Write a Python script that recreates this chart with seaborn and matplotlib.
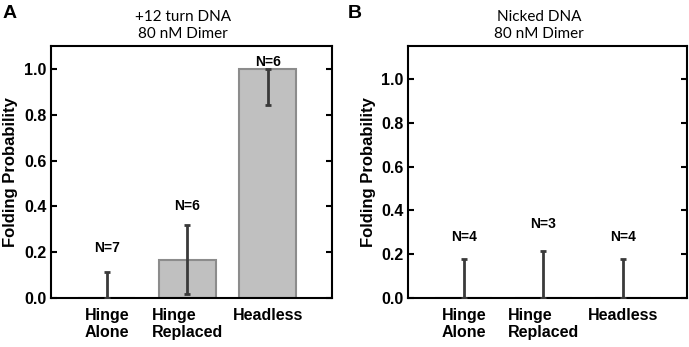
import numpy as np
import pandas as pd
import seaborn as sns
import matplotlib.pyplot as plt

# categories and values
categories = ["Hinge\nAlone", "Hinge\nReplaced", "Headless"]

twelve_mean = [0.0, 0.167, 1.0]
twelve_err_lo = [0.0, 0.15, 0.155]
twelve_err_hi = [0.115, 0.15, 0.0]
twelve_n = ["N=7", "N=6", "N=6"]
twelve_n_y = [0.22, 0.40, 1.03]

nicked_mean = [0.0, 0.0, 0.0]
nicked_err_lo = [0.0, 0.0, 0.0]
nicked_err_hi = [0.177, 0.215, 0.177]
nicked_n = ["N=4", "N=3", "N=4"]
nicked_n_y = [0.28, 0.337, 0.28]

sns.set_style("ticks")
plt.rcParams["font.family"] = ["Liberation Sans", "DejaVu Sans"]
plt.rcParams["text.color"] = "black"
plt.rcParams["axes.labelcolor"] = "black"
plt.rcParams["xtick.color"] = "black"
plt.rcParams["ytick.color"] = "black"

fig = plt.figure(figsize=(6.89, 3.47), dpi=100)
ax_a = fig.add_axes([0.0733, 0.141, 0.409, 0.726])
ax_b = fig.add_axes([0.592, 0.141, 0.405, 0.726])

panels = [
    (ax_a, "+12 turn DNA\n80 nM Dimer", twelve_mean, twelve_err_lo, twelve_err_hi, twelve_n, twelve_n_y, 1.1),
    (ax_b, "Nicked DNA\n80 nM Dimer", nicked_mean, nicked_err_lo, nicked_err_hi, nicked_n, nicked_n_y, 1.15),
]

for ax, title, mean, lo, hi, nlab, ny, ytop in panels:
    df = pd.DataFrame({"cond": categories, "prob": mean})
    sns.barplot(data=df, x="cond", y="prob", ax=ax, color="#c0c0c0",
                edgecolor="#8c8c8c", linewidth=1.5, width=0.71, saturation=1)
    xpos = np.arange(len(categories))
    ax.errorbar(xpos, mean, yerr=[lo, hi], fmt="none", ecolor="#3a3a3a",
                elinewidth=2, capsize=2.5, capthick=2, zorder=5)
    for x, lab, y in zip(xpos, nlab, ny):
        ax.text(x, y, lab, ha="center", va="center", fontsize=10, fontweight="bold")

    ax.set_xlim(-0.7, 0.8 + len(categories) - 1)
    ax.set_ylim(0, ytop)
    ax.set_yticks(np.arange(0, 1.01, 0.2))
    ax.set_yticklabels([f"{v:.1f}" for v in np.arange(0, 1.01, 0.2)])
    ax.set_xlabel("")
    ax.set_ylabel("Folding Probability", fontsize=12, fontweight="bold", labelpad=4)
    for lbl in ax.get_xticklabels():
        lbl.set_multialignment("left")
    ax.tick_params(axis="x", length=0, pad=7, labelsize=11.5)
    ax.tick_params(axis="y", direction="in", length=4, width=1.5, labelsize=11.5,
                   right=True, pad=3)
    for lbl in ax.get_xticklabels() + ax.get_yticklabels():
        lbl.set_fontweight("bold")
    for sp in ax.spines.values():
        sp.set_visible(True)
        sp.set_linewidth(1.5)
        sp.set_color("black")

    ax.text(0.47, 1.02, title, transform=ax.transAxes, ha="center", va="bottom",
            fontsize=11, family=["Lato", "DejaVu Sans"], linespacing=1.3)

fig.text(0.004, 0.985, "A", ha="left", va="top", fontsize=14, fontweight="bold")
fig.text(0.505, 0.985, "B", ha="left", va="top", fontsize=14, fontweight="bold")

fig.savefig("out.png", dpi=100)
